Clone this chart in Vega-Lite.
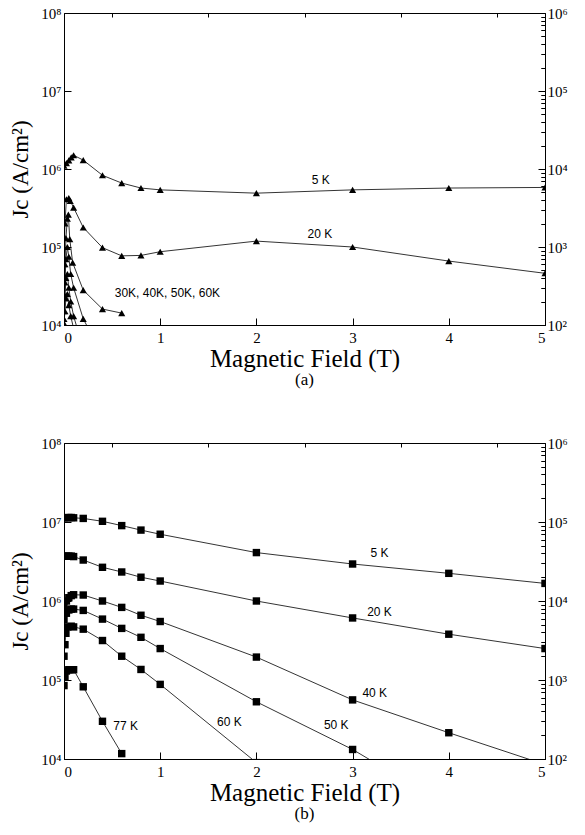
{
  "$schema": "https://vega.github.io/schema/vega-lite/v6.json",
  "background": "white",
  "padding": {"left": 9, "top": 5, "right": 5, "bottom": 5},
  "config": {
    "view": {"stroke": "black", "strokeWidth": 1},
    "axis": {"domainColor": "black", "tickColor": "black", "labelColor": "black", "titleColor": "black", "labelFont": "Liberation Serif", "labelFontSize": 15, "titleFont": "Liberation Serif", "titleFontSize": 25, "titleFontWeight": "normal", "grid": false},
    "title": {"font": "Liberation Serif", "fontSize": 17, "fontWeight": "normal", "color": "black"}
  },
  "datasets": {
    "a": [
      {"s": "5K", "T": 0, "Jc": 1100000}, {"s": "5K", "T": 0.025, "Jc": 1190000}, {"s": "5K", "T": 0.05, "Jc": 1290000}, {"s": "5K", "T": 0.075, "Jc": 1410000}, {"s": "5K", "T": 0.1, "Jc": 1500000}, {"s": "5K", "T": 0.2, "Jc": 1300000}, {"s": "5K", "T": 0.4, "Jc": 830000}, {"s": "5K", "T": 0.6, "Jc": 660000}, {"s": "5K", "T": 0.8, "Jc": 570000}, {"s": "5K", "T": 1, "Jc": 540000}, {"s": "5K", "T": 2, "Jc": 490000}, {"s": "5K", "T": 3, "Jc": 540000}, {"s": "5K", "T": 4, "Jc": 570000}, {"s": "5K", "T": 5, "Jc": 580000},
      {"s": "20K", "T": 0, "Jc": 60000}, {"s": "20K", "T": 0.01, "Jc": 200000}, {"s": "20K", "T": 0.025, "Jc": 410000}, {"s": "20K", "T": 0.05, "Jc": 425000}, {"s": "20K", "T": 0.065, "Jc": 390000}, {"s": "20K", "T": 0.1, "Jc": 320000}, {"s": "20K", "T": 0.2, "Jc": 178000}, {"s": "20K", "T": 0.4, "Jc": 98000}, {"s": "20K", "T": 0.6, "Jc": 77000}, {"s": "20K", "T": 0.8, "Jc": 78000}, {"s": "20K", "T": 1, "Jc": 87000}, {"s": "20K", "T": 2, "Jc": 119000}, {"s": "20K", "T": 3, "Jc": 100000}, {"s": "20K", "T": 4, "Jc": 66000}, {"s": "20K", "T": 5, "Jc": 46000},
      {"s": "30K", "T": 0, "Jc": 25000}, {"s": "30K", "T": 0.01, "Jc": 60000}, {"s": "30K", "T": 0.02, "Jc": 130000}, {"s": "30K", "T": 0.035, "Jc": 230000}, {"s": "30K", "T": 0.045, "Jc": 260000}, {"s": "30K", "T": 0.06, "Jc": 126000}, {"s": "30K", "T": 0.09, "Jc": 63000}, {"s": "30K", "T": 0.2, "Jc": 28000}, {"s": "30K", "T": 0.4, "Jc": 16000}, {"s": "30K", "T": 0.6, "Jc": 14200},
      {"s": "40K", "T": 0, "Jc": 15000}, {"s": "40K", "T": 0.01, "Jc": 35000}, {"s": "40K", "T": 0.02, "Jc": 70000}, {"s": "40K", "T": 0.035, "Jc": 100000}, {"s": "40K", "T": 0.05, "Jc": 75000}, {"s": "40K", "T": 0.07, "Jc": 45000}, {"s": "40K", "T": 0.1, "Jc": 30000}, {"s": "40K", "T": 0.2, "Jc": 12000}, {"s": "40K", "T": 0.3, "Jc": 7000},
      {"s": "50K", "T": 0, "Jc": 12000}, {"s": "50K", "T": 0.01, "Jc": 22000}, {"s": "50K", "T": 0.02, "Jc": 40000}, {"s": "50K", "T": 0.035, "Jc": 45000}, {"s": "50K", "T": 0.05, "Jc": 30000}, {"s": "50K", "T": 0.07, "Jc": 20000}, {"s": "50K", "T": 0.1, "Jc": 13000}, {"s": "50K", "T": 0.15, "Jc": 8000},
      {"s": "60K", "T": 0, "Jc": 10500}, {"s": "60K", "T": 0.01, "Jc": 15000}, {"s": "60K", "T": 0.02, "Jc": 22000}, {"s": "60K", "T": 0.035, "Jc": 25000}, {"s": "60K", "T": 0.05, "Jc": 18000}, {"s": "60K", "T": 0.07, "Jc": 13000}, {"s": "60K", "T": 0.1, "Jc": 9000}
    ],
    "b": [
      {"s": "5K", "T": 0, "Jc": 11300000}, {"s": "5K", "T": 0.025, "Jc": 11300000}, {"s": "5K", "T": 0.05, "Jc": 11400000}, {"s": "5K", "T": 0.075, "Jc": 11400000}, {"s": "5K", "T": 0.1, "Jc": 11300000}, {"s": "5K", "T": 0.2, "Jc": 11100000}, {"s": "5K", "T": 0.4, "Jc": 10200000}, {"s": "5K", "T": 0.6, "Jc": 9000000}, {"s": "5K", "T": 0.8, "Jc": 7900000}, {"s": "5K", "T": 1, "Jc": 7000000}, {"s": "5K", "T": 2, "Jc": 4100000}, {"s": "5K", "T": 3, "Jc": 2940000}, {"s": "5K", "T": 4, "Jc": 2240000}, {"s": "5K", "T": 5, "Jc": 1670000},
      {"s": "20K", "T": 0, "Jc": 3700000}, {"s": "20K", "T": 0.025, "Jc": 3700000}, {"s": "20K", "T": 0.05, "Jc": 3700000}, {"s": "20K", "T": 0.075, "Jc": 3700000}, {"s": "20K", "T": 0.1, "Jc": 3650000}, {"s": "20K", "T": 0.2, "Jc": 3300000}, {"s": "20K", "T": 0.4, "Jc": 2670000}, {"s": "20K", "T": 0.6, "Jc": 2330000}, {"s": "20K", "T": 0.8, "Jc": 2000000}, {"s": "20K", "T": 1, "Jc": 1790000}, {"s": "20K", "T": 2, "Jc": 1000000}, {"s": "20K", "T": 3, "Jc": 610000}, {"s": "20K", "T": 4, "Jc": 380000}, {"s": "20K", "T": 5, "Jc": 250000},
      {"s": "40K", "T": 0, "Jc": 850000}, {"s": "40K", "T": 0.025, "Jc": 1000000}, {"s": "40K", "T": 0.05, "Jc": 1100000}, {"s": "40K", "T": 0.075, "Jc": 1170000}, {"s": "40K", "T": 0.1, "Jc": 1200000}, {"s": "40K", "T": 0.2, "Jc": 1190000}, {"s": "40K", "T": 0.4, "Jc": 1000000}, {"s": "40K", "T": 0.6, "Jc": 830000}, {"s": "40K", "T": 0.8, "Jc": 660000}, {"s": "40K", "T": 1, "Jc": 550000}, {"s": "40K", "T": 2, "Jc": 195000}, {"s": "40K", "T": 3, "Jc": 56000}, {"s": "40K", "T": 4, "Jc": 21500}, {"s": "40K", "T": 5, "Jc": 8500},
      {"s": "50K", "T": 0, "Jc": 580000}, {"s": "50K", "T": 0.025, "Jc": 700000}, {"s": "50K", "T": 0.05, "Jc": 770000}, {"s": "50K", "T": 0.075, "Jc": 790000}, {"s": "50K", "T": 0.1, "Jc": 790000}, {"s": "50K", "T": 0.2, "Jc": 760000}, {"s": "50K", "T": 0.4, "Jc": 590000}, {"s": "50K", "T": 0.6, "Jc": 450000}, {"s": "50K", "T": 0.8, "Jc": 347000}, {"s": "50K", "T": 1, "Jc": 250000}, {"s": "50K", "T": 2, "Jc": 53000}, {"s": "50K", "T": 3, "Jc": 13200}, {"s": "50K", "T": 4, "Jc": 2500},
      {"s": "60K", "T": 0, "Jc": 200000}, {"s": "60K", "T": 0.01, "Jc": 280000}, {"s": "60K", "T": 0.02, "Jc": 390000}, {"s": "60K", "T": 0.04, "Jc": 470000}, {"s": "60K", "T": 0.075, "Jc": 480000}, {"s": "60K", "T": 0.1, "Jc": 470000}, {"s": "60K", "T": 0.2, "Jc": 440000}, {"s": "60K", "T": 0.4, "Jc": 316000}, {"s": "60K", "T": 0.6, "Jc": 200000}, {"s": "60K", "T": 0.8, "Jc": 136000}, {"s": "60K", "T": 1, "Jc": 88000}, {"s": "60K", "T": 2, "Jc": 9000},
      {"s": "77K", "T": 0, "Jc": 85000}, {"s": "77K", "T": 0.01, "Jc": 110000}, {"s": "77K", "T": 0.025, "Jc": 130000}, {"s": "77K", "T": 0.05, "Jc": 135000}, {"s": "77K", "T": 0.075, "Jc": 135000}, {"s": "77K", "T": 0.1, "Jc": 135000}, {"s": "77K", "T": 0.2, "Jc": 82000}, {"s": "77K", "T": 0.4, "Jc": 30000}, {"s": "77K", "T": 0.6, "Jc": 11700}
    ],
    "la": [
      {"T": 2.67, "Jc": 720000, "label": "5 K"},
      {"T": 2.66, "Jc": 148000, "label": "20 K"},
      {"T": 1.075, "Jc": 26000, "label": "30K, 40K, 50K, 60K"}
    ],
    "lb": [
      {"T": 3.28, "Jc": 4000000, "label": "5 K"},
      {"T": 3.28, "Jc": 720000, "label": "20 K"},
      {"T": 3.23, "Jc": 68000, "label": "40 K"},
      {"T": 2.83, "Jc": 27000, "label": "50 K"},
      {"T": 1.72, "Jc": 29000, "label": "60 K"},
      {"T": 0.64, "Jc": 26000, "label": "77 K"}
    ]
  },
  "vconcat": [
    {
      "width": 481,
      "height": 312,
      "title": {"text": "(a)", "orient": "bottom", "offset": 1},
      "layer": [
        {
          "data": {"name": "a"},
          "mark": {"type": "line", "color": "black", "strokeWidth": 0.8, "clip": true},
          "encoding": {
            "x": {"field": "T", "type": "quantitative", "scale": {"domain": [0, 5]}, "axis": {"values": [0, 1, 2, 3, 4, 5], "tickSize": -7, "labelPadding": 12, "title": "Magnetic Field (T)", "titlePadding": 1}},
            "y": {"field": "Jc", "type": "quantitative", "scale": {"type": "log", "domain": [10000, 100000000]}, "axis": {"values": [10000, 100000, 1000000, 10000000, 100000000], "tickSize": -7, "labelPadding": 10, "labelExpr": "'10' + ['⁰','¹','²','³','⁴','⁵','⁶','⁷','⁸'][round(log(datum.value)/LN10)]", "title": "Jc (A/cm²)", "titleFontSize": 23, "titlePadding": 8}},
            "detail": {"field": "s"}
          }
        },
        {
          "data": {"name": "a"},
          "mark": {"type": "point", "shape": "triangle-up", "filled": true, "color": "black", "size": 50, "opacity": 1, "clip": true},
          "encoding": {
            "x": {"field": "T", "type": "quantitative", "scale": {"domain": [0, 5]}, "axis": {"values": [0.5, 1.5, 2.5, 3.5, 4.5], "tickSize": -4, "labels": false, "domain": false, "title": null}},
            "y": {"field": "Jc", "type": "quantitative", "scale": {"type": "log", "domain": [10000, 100000000]}, "axis": {"values": [20000, 30000, 40000, 50000, 60000, 70000, 80000, 90000, 200000, 300000, 400000, 500000, 600000, 700000, 800000, 900000, 2000000, 3000000, 4000000, 5000000, 6000000, 7000000, 8000000, 9000000, 20000000, 30000000, 40000000, 50000000, 60000000, 70000000, 80000000, 90000000], "tickSize": -4, "labels": false, "domain": false, "title": null}}
          }
        },
        {
          "data": {"name": "la"},
          "mark": {"type": "text", "font": "Liberation Sans", "fontSize": 12, "color": "black", "align": "center", "baseline": "middle"},
          "encoding": {
            "x": {"field": "T", "type": "quantitative", "scale": {"domain": [0, 5]}, "axis": null},
            "y": {"field": "Jc", "type": "quantitative", "scale": {"type": "log", "domain": [10000, 100000000]}, "axis": {"orient": "right", "values": [10000, 100000, 1000000, 10000000, 100000000], "tickSize": -7, "labelPadding": 9, "labelExpr": "'10' + ['⁰','¹','²','³','⁴','⁵','⁶','⁷','⁸'][round(log(datum.value)/LN10) - 2]", "title": null}},
            "text": {"field": "label"}
          }
        },
        {
          "data": {"name": "la"},
          "mark": {"type": "point", "opacity": 0},
          "encoding": {
            "x": {"field": "T", "type": "quantitative", "scale": {"domain": [0, 5]}, "axis": null},
            "y": {"field": "Jc", "type": "quantitative", "scale": {"type": "log", "domain": [10000, 100000000]}, "axis": {"orient": "right", "values": [20000, 30000, 40000, 50000, 60000, 70000, 80000, 90000, 200000, 300000, 400000, 500000, 600000, 700000, 800000, 900000, 2000000, 3000000, 4000000, 5000000, 6000000, 7000000, 8000000, 9000000, 20000000, 30000000, 40000000, 50000000, 60000000, 70000000, 80000000, 90000000], "tickSize": -4, "labels": false, "domain": false, "title": null}}
          }
        }
      ],
      "resolve": {"axis": {"x": "independent", "y": "independent"}}
    },
    {
      "width": 481,
      "height": 316,
      "title": {"text": "(b)", "orient": "bottom", "offset": 1},
      "layer": [
        {
          "data": {"name": "b"},
          "mark": {"type": "line", "color": "black", "strokeWidth": 0.8, "clip": true},
          "encoding": {
            "x": {"field": "T", "type": "quantitative", "scale": {"domain": [0, 5]}, "axis": {"values": [0, 1, 2, 3, 4, 5], "tickSize": -7, "labelPadding": 12, "title": "Magnetic Field (T)", "titlePadding": 1}},
            "y": {"field": "Jc", "type": "quantitative", "scale": {"type": "log", "domain": [10000, 100000000]}, "axis": {"values": [10000, 100000, 1000000, 10000000, 100000000], "tickSize": -7, "labelPadding": 10, "labelExpr": "'10' + ['⁰','¹','²','³','⁴','⁵','⁶','⁷','⁸'][round(log(datum.value)/LN10)]", "title": "Jc (A/cm²)", "titleFontSize": 23, "titlePadding": 8}},
            "detail": {"field": "s"}
          }
        },
        {
          "data": {"name": "b"},
          "mark": {"type": "square", "color": "black", "size": 55, "opacity": 1, "clip": true},
          "encoding": {
            "x": {"field": "T", "type": "quantitative", "scale": {"domain": [0, 5]}, "axis": {"values": [0.5, 1.5, 2.5, 3.5, 4.5], "tickSize": -4, "labels": false, "domain": false, "title": null}},
            "y": {"field": "Jc", "type": "quantitative", "scale": {"type": "log", "domain": [10000, 100000000]}, "axis": {"values": [20000, 30000, 40000, 50000, 60000, 70000, 80000, 90000, 200000, 300000, 400000, 500000, 600000, 700000, 800000, 900000, 2000000, 3000000, 4000000, 5000000, 6000000, 7000000, 8000000, 9000000, 20000000, 30000000, 40000000, 50000000, 60000000, 70000000, 80000000, 90000000], "tickSize": -4, "labels": false, "domain": false, "title": null}}
          }
        },
        {
          "data": {"name": "lb"},
          "mark": {"type": "text", "font": "Liberation Sans", "fontSize": 12, "color": "black", "align": "center", "baseline": "middle"},
          "encoding": {
            "x": {"field": "T", "type": "quantitative", "scale": {"domain": [0, 5]}, "axis": null},
            "y": {"field": "Jc", "type": "quantitative", "scale": {"type": "log", "domain": [10000, 100000000]}, "axis": {"orient": "right", "values": [10000, 100000, 1000000, 10000000, 100000000], "tickSize": -7, "labelPadding": 9, "labelExpr": "'10' + ['⁰','¹','²','³','⁴','⁵','⁶','⁷','⁸'][round(log(datum.value)/LN10) - 2]", "title": null}},
            "text": {"field": "label"}
          }
        },
        {
          "data": {"name": "lb"},
          "mark": {"type": "point", "opacity": 0},
          "encoding": {
            "x": {"field": "T", "type": "quantitative", "scale": {"domain": [0, 5]}, "axis": null},
            "y": {"field": "Jc", "type": "quantitative", "scale": {"type": "log", "domain": [10000, 100000000]}, "axis": {"orient": "right", "values": [20000, 30000, 40000, 50000, 60000, 70000, 80000, 90000, 200000, 300000, 400000, 500000, 600000, 700000, 800000, 900000, 2000000, 3000000, 4000000, 5000000, 6000000, 7000000, 8000000, 9000000, 20000000, 30000000, 40000000, 50000000, 60000000, 70000000, 80000000, 90000000], "tickSize": -4, "labels": false, "domain": false, "title": null}}
          }
        }
      ],
      "resolve": {"axis": {"x": "independent", "y": "independent"}}
    }
  ],
  "spacing": 46
}
